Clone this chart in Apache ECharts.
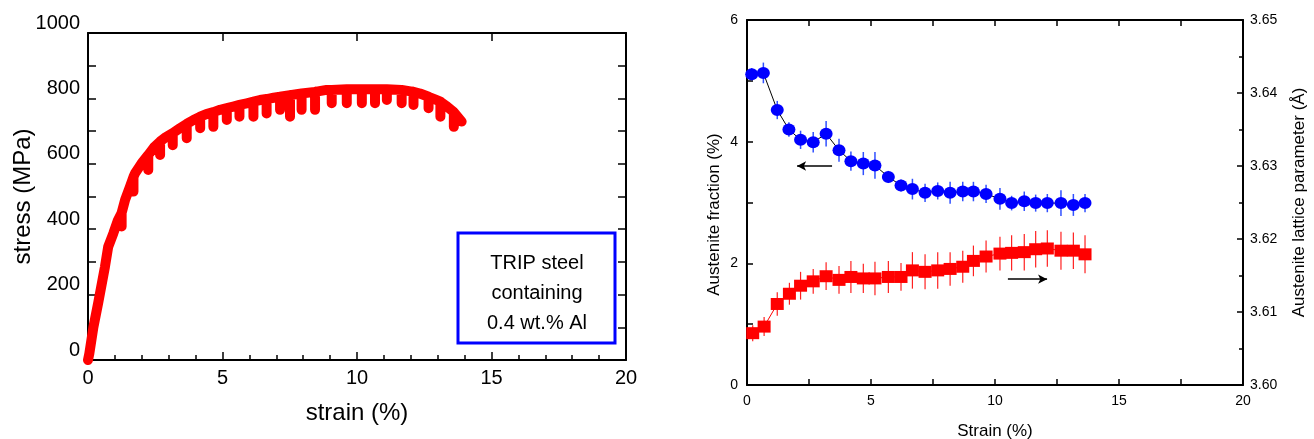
<!DOCTYPE html>
<html><head><meta charset="utf-8">
<script src="https://cdn.jsdelivr.net/npm/echarts@6/dist/echarts.min.js"></script>
<style>html,body{margin:0;padding:0;background:#fff}#c{width:1314px;height:439px}</style>
</head><body><div id="c"></div>
<script>
// ---- Left panel: stress-strain (cyclic loading, envelope + unloading dips) ----
const ssStrain = [
  0.00, 0.05, 0.20, 0.38, 0.63, 0.75, 0.94, 1.10,
  1.25, 1.25, 1.25, 1.38, 1.56,
  1.69, 1.69, 1.69, 1.75, 1.99,
  2.24, 2.24, 2.24, 2.45,
  2.68, 2.68, 2.68, 2.90,
  3.15, 3.15, 3.15, 3.42,
  3.67, 3.67, 3.67, 3.92,
  4.17, 4.17, 4.17, 4.40,
  4.66, 4.66, 4.66, 4.91,
  5.16, 5.16, 5.16, 5.40,
  5.63, 5.63, 5.63, 5.90,
  6.15, 6.15, 6.15, 6.39,
  6.64, 6.64, 6.64, 6.90,
  7.14, 7.14, 7.14,
  7.51, 7.51, 7.51,
  7.94, 7.94, 7.94,
  8.44, 8.44, 8.44, 8.87,
  9.06, 9.06, 9.06,
  9.62, 9.62, 9.62,
  10.18, 10.18, 10.18,
  10.67, 10.67, 10.67,
  11.11, 11.11, 11.11,
  11.66, 11.66, 11.66,
  12.10, 12.10, 12.10, 12.34,
  12.66, 12.66, 12.66, 12.90,
  13.10, 13.10, 13.10, 13.35,
  13.60, 13.60, 13.60, 13.89
];
const ssStress = [
  0, 20, 100, 175, 285, 346, 387, 425,
  450, 408, 450, 490, 530,
  560, 515, 560, 571, 601,
  627, 581, 627, 650,
  668, 627, 668, 682,
  694, 657, 694, 709,
  722, 678, 722, 734,
  744, 709, 744, 752,
  758, 713, 758, 765,
  770, 734, 770, 775,
  780, 744, 780, 785,
  790, 744, 790, 795,
  798, 754, 798, 802,
  805, 765, 805,
  810, 744, 810,
  815, 765, 815,
  820, 765, 820, 826,
  826, 785, 826,
  828, 785, 828,
  828, 785, 828,
  828, 785, 828,
  828, 795, 828,
  826, 785, 826,
  820, 780, 820, 815,
  805, 770, 805, 797,
  790, 744, 790, 775,
  758, 713, 758, 729
];
const leftXTicks = [0, 5, 10, 15, 20];
const leftYTicks = [0, 200, 400, 600, 800, 1000];

// ---- Right panel: austenite fraction and lattice parameter ----
const fracStrain = [0.19,0.66,1.22,1.69,2.16,2.67,3.19,3.71,4.19,4.69,5.16,5.70,6.21,6.67,7.18,7.69,8.19,8.70,9.13,9.64,10.20,10.67,11.18,11.64,12.11,12.66,13.16,13.63];
const fraction   = [5.11,5.13,4.52,4.20,4.03,3.99,4.13,3.86,3.68,3.64,3.61,3.42,3.28,3.22,3.16,3.19,3.16,3.18,3.18,3.14,3.06,2.99,3.02,2.99,2.99,2.99,2.96,2.99];
const fracErr    = [0.10,0.17,0.15,0.12,0.15,0.17,0.21,0.19,0.16,0.19,0.22,0.10,0.10,0.17,0.15,0.14,0.18,0.16,0.16,0.15,0.18,0.12,0.16,0.14,0.15,0.21,0.18,0.15];
const latStrain  = [0.23,0.69,1.22,1.71,2.16,2.67,3.19,3.71,4.19,4.69,5.16,5.70,6.21,6.67,7.18,7.69,8.19,8.70,9.13,9.64,10.20,10.67,11.18,11.64,12.11,12.66,13.16,13.63];
const lattice    = [3.6071,3.6080,3.6111,3.6125,3.6136,3.6142,3.6149,3.6144,3.6148,3.6146,3.6146,3.6148,3.6148,3.6157,3.6155,3.6157,3.6159,3.6162,3.6170,3.6176,3.6180,3.6181,3.6182,3.6186,3.6187,3.6184,3.6184,3.6179];
const latErr     = [0.0011,0.0013,0.0016,0.0015,0.0019,0.0017,0.0019,0.0019,0.0022,0.0020,0.0023,0.0022,0.0019,0.0025,0.0024,0.0025,0.0023,0.0022,0.0021,0.0022,0.0023,0.0024,0.0025,0.0025,0.0025,0.0026,0.0025,0.0026];
const rightXTicks = [0, 5, 10, 15, 20];
const fracTicks = [0, 2, 4, 6];
const latTicks = [3.60, 3.61, 3.62, 3.63, 3.64, 3.65];

const FONT = '"Liberation Sans", Arial, sans-serif';

function zip(a, b, c) { return a.map((v, i) => c ? [v, b[i], c[i]] : [v, b[i]]); }
function step(t) { return t[1] - t[0]; }

function errRender(color, width) {
  return function (params, api) {
    const x = api.value(0), y = api.value(1), e = api.value(2);
    const p1 = api.coord([x, y - e]), p2 = api.coord([x, y + e]);
    return { type: 'line', shape: { x1: p1[0], y1: p1[1], x2: p2[0], y2: p2[1] },
      style: { stroke: color, lineWidth: width } };
  };
}

function frameAxis(o) {
  return Object.assign({
    type: 'value',
    axisLine: { show: true, onZero: false, lineStyle: { color: '#000', width: 2 } },
    axisTick: { show: true, inside: true, length: 6, lineStyle: { color: '#000', width: 1.5 } },
    minorTick: { show: false },
    splitLine: { show: false },
    axisLabel: { show: false }
  }, o);
}

const chart = echarts.init(document.getElementById('c'), null, { renderer: 'canvas' });
chart.setOption({
  animation: false,
  backgroundColor: '#fff',
  grid: [
    { left: 88, top: 33, width: 538, height: 327, containLabel: false, outerBoundsMode: 'none' },
    { left: 747, top: 20, width: 496, height: 365, containLabel: false, outerBoundsMode: 'none' }
  ],
  xAxis: [
    frameAxis({ gridIndex: 0, position: 'bottom', min: leftXTicks[0], max: leftXTicks[leftXTicks.length - 1], interval: step(leftXTicks),
      axisTick: { show: true, inside: true, length: 8, lineStyle: { color: '#000', width: 1.5 } },
      minorTick: { show: true, splitNumber: 5, length: 5, lineStyle: { color: '#000', width: 1.5 } },
      axisLabel: { show: true, fontSize: 20, color: '#000', fontFamily: FONT, margin: 8, formatter: v => String(v) },
      name: 'strain (%)', nameLocation: 'middle', nameGap: 41,
      nameTextStyle: { fontSize: 24, color: '#000', fontFamily: FONT } }),
    frameAxis({ gridIndex: 0, position: 'top', min: leftXTicks[0], max: leftXTicks[leftXTicks.length - 1], interval: step(leftXTicks),
      axisTick: { show: true, inside: true, length: 8, lineStyle: { color: '#000', width: 1.5 } } }),
    frameAxis({ gridIndex: 1, position: 'bottom', min: rightXTicks[0], max: rightXTicks[rightXTicks.length - 1], interval: step(rightXTicks),
      minorTick: { show: true, splitNumber: 2, length: 6, lineStyle: { color: '#000', width: 1.5 } },
      axisLabel: { show: true, fontSize: 14, color: '#000', fontFamily: FONT, margin: 9, formatter: v => String(v) },
      name: 'Strain (%)', nameLocation: 'middle', nameGap: 38,
      nameTextStyle: { fontSize: 17, color: '#000', fontFamily: FONT } }),
    frameAxis({ gridIndex: 1, position: 'top', min: rightXTicks[0], max: rightXTicks[rightXTicks.length - 1], interval: step(rightXTicks),
      minorTick: { show: true, splitNumber: 2, length: 6, lineStyle: { color: '#000', width: 1.5 } } })
  ],
  yAxis: [
    frameAxis({ gridIndex: 0, position: 'left', min: leftYTicks[0], max: leftYTicks[leftYTicks.length - 1], interval: step(leftYTicks),
      axisTick: { show: true, inside: true, length: 8, lineStyle: { color: '#000', width: 1.5 } },
      minorTick: { show: true, splitNumber: 2, length: 8, lineStyle: { color: '#000', width: 1.5 } },
      axisLabel: { show: true, fontSize: 20, color: '#000', fontFamily: FONT, margin: 8, verticalAlign: 'bottom', formatter: v => String(v) },
      name: 'stress (MPa)', nameLocation: 'middle', nameGap: 53, nameMoveOverlap: false,
      nameTextStyle: { fontSize: 24, color: '#000', fontFamily: FONT } }),
    frameAxis({ gridIndex: 0, position: 'right', min: leftYTicks[0], max: leftYTicks[leftYTicks.length - 1], interval: step(leftYTicks),
      axisTick: { show: true, inside: true, length: 8, lineStyle: { color: '#000', width: 1.5 } },
      minorTick: { show: true, splitNumber: 2, length: 8, lineStyle: { color: '#000', width: 1.5 } } }),
    frameAxis({ gridIndex: 1, position: 'left', min: fracTicks[0], max: fracTicks[fracTicks.length - 1], interval: step(fracTicks),
      minorTick: { show: true, splitNumber: 2, length: 6, lineStyle: { color: '#000', width: 1.5 } },
      axisLabel: { show: true, fontSize: 14, color: '#000', fontFamily: FONT, margin: 9, formatter: v => String(v) },
      name: 'Austenite fraction (%)', nameLocation: 'middle', nameGap: 24,
      nameTextStyle: { fontSize: 17, color: '#000', fontFamily: FONT, padding: [0, 24, 0, 0] } }),
    frameAxis({ gridIndex: 1, position: 'right', min: latTicks[0], max: latTicks[latTicks.length - 1], interval: 0.01,
      minorTick: { show: true, splitNumber: 2, length: 4, lineStyle: { color: '#000', width: 1.5 } },
      axisTick: { show: true, inside: true, length: 6, lineStyle: { color: '#000', width: 1.5 } },
      axisLabel: { show: true, fontSize: 14, color: '#000', fontFamily: FONT, margin: 7, formatter: v => Number(v).toFixed(2) },
      name: 'Austenite lattice parameter (Å)', nameLocation: 'middle', nameGap: 48, nameRotate: 90,
      nameTextStyle: { fontSize: 17, color: '#000', fontFamily: FONT } })
  ],
  series: [
    { type: 'line', xAxisIndex: 0, yAxisIndex: 0, data: zip(ssStrain, ssStress), showSymbol: false, symbol: 'none',
      lineStyle: { color: '#ff0000', width: 10, cap: 'round', join: 'round' }, z: 3 },
    { type: 'custom', xAxisIndex: 2, yAxisIndex: 2, data: zip(fracStrain, fraction, fracErr),
      renderItem: errRender('#3050ff', 1.5), encode: { x: 0, y: 1 }, z: 2 },
    { type: 'line', xAxisIndex: 2, yAxisIndex: 2, data: zip(fracStrain, fraction), symbol: 'circle', symbolSize: [13, 12],
      itemStyle: { color: '#0000ff' }, lineStyle: { color: '#000', width: 1 }, z: 3,
      markLine: { silent: true, symbol: ['none', 'arrow'], symbolSize: [7, 9], label: { show: false },
        lineStyle: { color: '#000', width: 1.5, type: 'solid' },
        data: [[{ coord: [3.43, 3.60] }, { coord: [2.02, 3.60] }]] } },
    { type: 'custom', xAxisIndex: 2, yAxisIndex: 3, data: zip(latStrain, lattice, latErr),
      renderItem: errRender('#ff2020', 1.2), encode: { x: 0, y: 1 }, z: 2 },
    { type: 'line', xAxisIndex: 2, yAxisIndex: 3, data: zip(latStrain, lattice), symbol: 'rect', symbolSize: [13, 12],
      itemStyle: { color: '#ff0000' }, lineStyle: { color: '#ff0000', width: 1 }, z: 3,
      markLine: { silent: true, symbol: ['none', 'arrow'], symbolSize: [7, 9], label: { show: false },
        lineStyle: { color: '#000', width: 1.5, type: 'solid' },
        data: [[{ coord: [10.52, 3.6145] }, { coord: [12.1, 3.6145] }]] } }
  ],
  graphic: [
    { type: 'rect', shape: { x: 458, y: 233, width: 157, height: 110 },
      style: { fill: '#fff', stroke: '#0000ff', lineWidth: 3 }, z: 10 },
    { type: 'text', z: 11, style: { x: 537, y: 263, text: 'TRIP steel', font: '20px ' + FONT, fill: '#000',
      textAlign: 'center', textVerticalAlign: 'middle', align: 'center', verticalAlign: 'middle' } },
    { type: 'text', z: 11, style: { x: 537, y: 293, text: 'containing', font: '20px ' + FONT, fill: '#000',
      textAlign: 'center', textVerticalAlign: 'middle', align: 'center', verticalAlign: 'middle' } },
    { type: 'text', z: 11, style: { x: 537, y: 323, text: '0.4 wt.% Al', font: '20px ' + FONT, fill: '#000',
      textAlign: 'center', textVerticalAlign: 'middle', align: 'center', verticalAlign: 'middle' } }
  ]
});
</script></body></html>
